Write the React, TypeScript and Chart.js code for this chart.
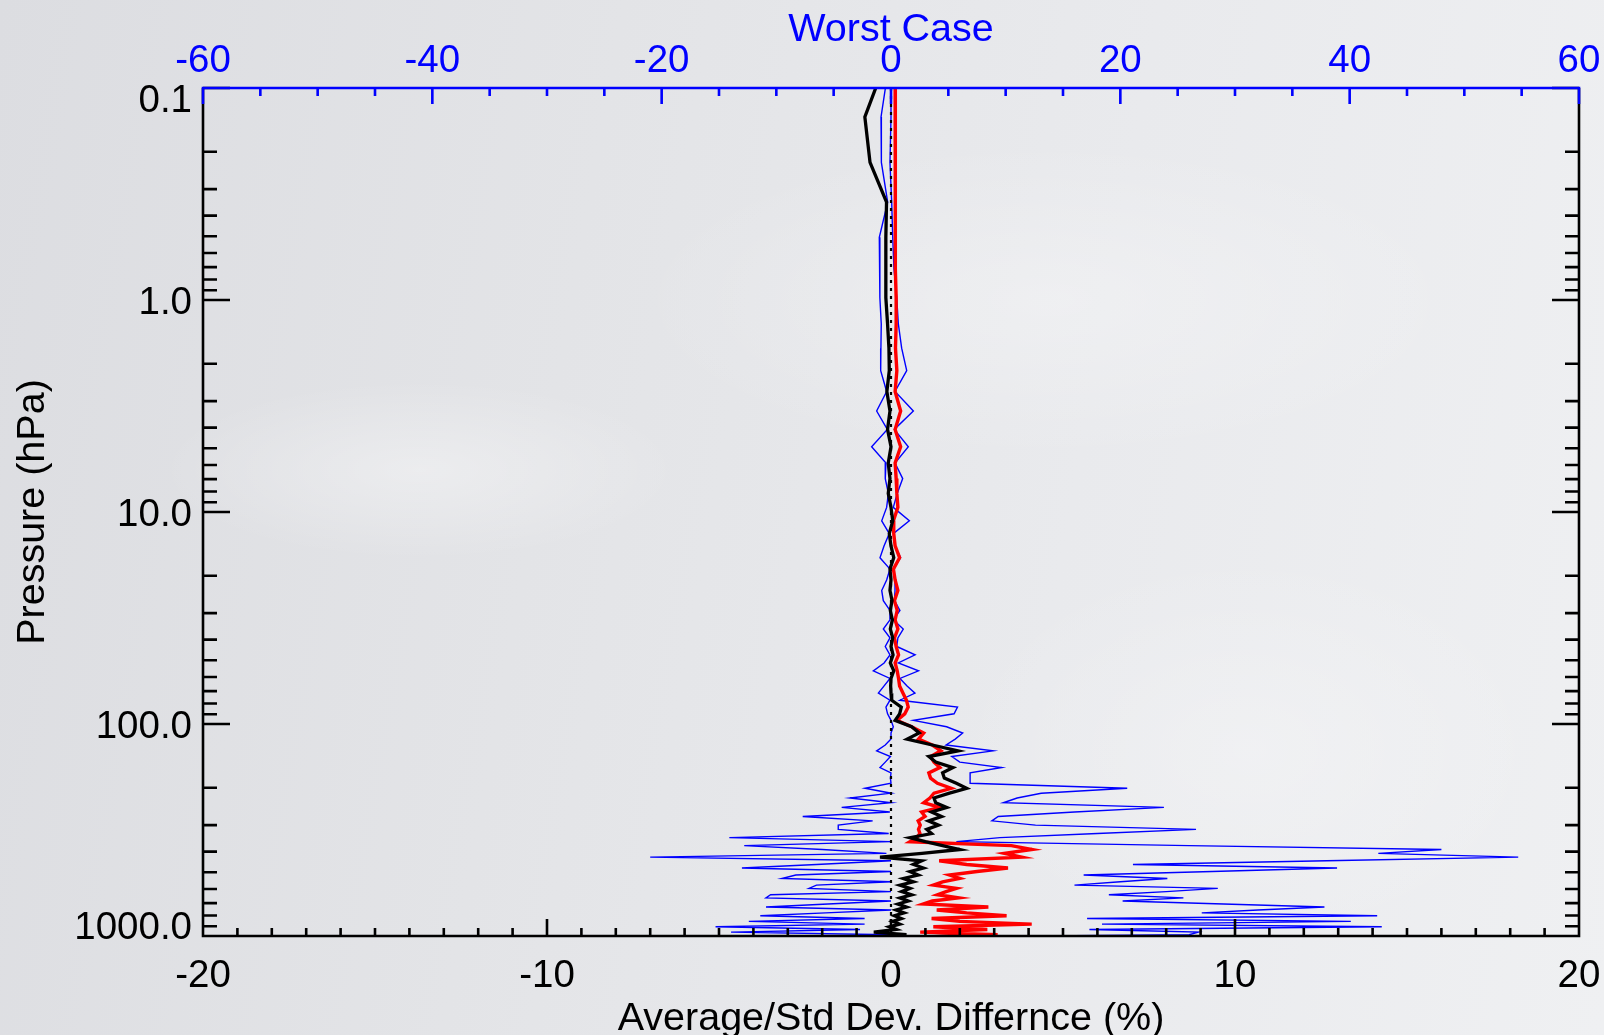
import { useEffect, useRef } from "react";
import { Chart, registerables } from "chart.js";

Chart.register(...registerables);

// Pressure levels (hPa) of the 101-level retrieval grid, 0.08 .. 1014 hPa
const pressureLevels = [
  0.0769, 0.137, 0.2244, 0.3454, 0.5064, 0.714, 0.9753, 1.2972, 1.6872, 2.1526,
  2.7009, 3.3398, 4.077, 4.9204, 5.8776, 6.9567, 8.1655, 9.5119, 11.0038, 12.6492,
  14.4559, 16.4318, 18.5847, 20.9224, 23.4526, 26.1829, 29.121, 32.2744, 35.6505, 39.2566,
  43.1001, 47.1882, 51.5278, 56.126, 60.9895, 66.1253, 71.5398, 77.2396, 83.231, 89.5204,
  96.1138, 103.0172, 110.2366, 117.7775, 125.6456, 133.8462, 142.3848, 151.2664, 160.4959, 170.0784,
  180.0183, 190.3203, 200.9887, 212.0277, 223.4415, 235.2338, 247.4085, 259.9691, 272.9191, 286.2617,
  300.0, 314.1369, 328.6753, 343.6176, 358.9665, 374.7241, 390.8926, 407.4738, 424.4698, 441.8819,
  459.7118, 477.9607, 496.6298, 515.72, 535.2322, 555.1669, 575.5248, 596.3062, 617.5112, 639.1398,
  661.192, 683.6673, 706.5654, 729.8857, 753.6275, 777.7897, 802.3714, 827.3713, 852.788, 878.6201,
  904.8659, 931.5236, 958.5911, 986.0666, 1013.9476,
];

// Average difference (%), bottom axis
const avgDiff = [
  -0.18, -0.76, -0.61, -0.13, -0.15, -0.15, -0.15, -0.1, -0.06, -0.05,
  -0.12, -0.03, -0.1, 0.0, -0.08, -0.03, -0.08, 0.0, 0.05, -0.05,
  0.0, 0.08, -0.03, 0.0, -0.03, 0.03, -0.02, 0.04, -0.02, 0.05,
  0.0, 0.06, -0.02, 0.08, 0.0, -0.01, 0.0, 0.02, 0.3, 0.25,
  0.12, 0.6, 0.82, 0.47, 1.2, 1.95, 1.1, 1.3, 1.8, 1.5,
  1.55, 1.9, 2.2, 1.7, 1.25, 1.3, 1.62, 1.18, 1.47, 1.09,
  1.38, 1.04, 1.18, 0.55, 1.0, 1.5, 2.0, 0.9, -0.32, 0.89,
  0.65, 0.94, 0.55, 0.79, 0.36, 0.65, 0.26, 0.55, 0.31, 0.6,
  0.26, 0.5, 0.2, 0.45, 0.15, 0.38, 0.1, 0.3, 0.05, 0.25,
  -0.05, 0.15, -0.5, 0.45, -0.3,
];

// Standard deviation difference (%), bottom axis
const stdDiff = [
  0.12, 0.12, 0.12, 0.12, 0.13, 0.14, 0.15, 0.15, 0.13, 0.17,
  0.12, 0.28, 0.12, 0.28, 0.12, 0.15, 0.17, 0.2, 0.07, 0.08,
  0.12, 0.25, 0.07, 0.12, 0.2, 0.1, 0.18, 0.12, 0.2, 0.1,
  0.15, 0.22, 0.12, 0.18, 0.22, 0.25, 0.35, 0.45, 0.5, 0.4,
  0.17, 0.6, 0.95, 0.8, 1.2, 1.45, 1.15, 1.25, 1.42, 1.1,
  1.15, 1.35, 1.75, 1.25, 1.13, 0.95, 1.42, 0.89, 0.99, 0.79,
  0.85, 0.8, 0.84, 0.75, 0.55, 3.5, 4.1, 3.3, 3.8, 1.4,
  2.2, 3.4, 2.5, 1.7, 2.0, 1.5, 1.23, 1.9, 1.6, 1.35,
  1.96, 1.2, 0.94, 2.83, 1.33, 2.2, 3.36, 1.18, 2.0, 4.09,
  1.23, 2.8, 0.85, 3.1, 0.8,
];

// Worst case, largest positive difference (%), top axis
const worstCaseHigh = [
  0.0, 0.0, -0.09, 0.06, 0.15, 0.26, 0.5, 0.64, 0.93, 1.37,
  0.35, 1.95, 0.29, 1.51, 0.35, 1.02, 0.55, 0.2, 1.6, 0.2,
  0.35, 0.84, 0.2, 0.35, 0.35, 0.3, 0.78, 0.2, 1.07, 0.6,
  0.5, 2.1, 0.64, 2.4, 0.78, 1.4, 2.09, 0.78, 5.8, 5.5,
  1.95, 4.85, 6.25, 5.6, 4.8, 8.9, 5.3, 6.0, 9.65, 6.9,
  6.9, 6.9, 20.6, 13.1, 11.0, 9.8, 23.8, 16.0, 9.35, 8.8,
  12.6, 26.6, 18.0, 9.5, 5.7, 26.0, 48.0, 42.5, 54.7, 38.0,
  21.1, 38.9, 28.0, 16.8, 24.1, 20.0, 16.0, 28.5, 24.0, 19.0,
  25.5, 20.2, 29.0, 37.8, 32.0, 27.1, 42.4, 17.1, 40.1, 18.4,
  42.8, 17.3, 26.8, 26.0, 0.0,
];

// Worst case, largest negative difference (%), top axis
const worstCaseLow = [
  -0.17, -0.87, -0.84, -0.29, -1.02, -0.98, -0.96, -0.85, -0.88, -0.9,
  -0.38, -1.25, -0.32, -1.69, -0.44, -0.5, -0.23, -0.38, -0.81, -0.15,
  -0.61, -0.96, -0.09, -0.38, -0.81, -0.67, -0.09, -0.09, -0.67, -0.09,
  -0.5, -0.09, -0.6, -1.54, -0.09, -0.6, -1.1, -0.09, -0.44, -0.3,
  0.0, 0.2, 0.0, 0.0, -0.5, -1.25, -0.05, -0.5, -0.96, 0.0,
  -0.05, 0.0, -2.27, 0.0, -3.58, 0.0, -4.3, -0.1, -7.7, -1.6,
  -4.6, -4.6, -0.2, -14.1, 0.0, -12.8, -6.0, -0.4, -21.0, 0.0,
  -6.5, -13.0, 0.0, -8.3, -9.5, 0.0, -6.5, -7.15, 0.0, -10.5,
  -10.9, 0.0, -5.5, -10.9, 0.0, -5.7, -11.4, -2.3, -12.4, -2.3,
  -15.3, -2.7, -13.95, 0.0, 0.0,
];

const bottomTicks = [-20, -10, 0, 10, 20];
const topTicks = [-60, -40, -20, 0, 20, 40, 60];
const pressureTicks = [0.1, 1, 10, 100, 1000];
const zeroLinePressures = [0.1, 1000];

const FONT = "'Liberation Sans', Arial, Helvetica, sans-serif";
const BLUE = "#0000ff";

const toPoints = (xs: number[]) => xs.map((x, i) => ({ x, y: pressureLevels[i] }));

// Draws the box frame with inward-pointing ticks and the pressure labels
const frame = {
  id: "frame",
  afterDraw(chart: any) {
    const { ctx, chartArea: a, scales } = chart;
    const sx = scales.x;
    const sx2 = scales.x2;
    const sy = scales.y;
    const seg = (x1: number, y1: number, x2: number, y2: number) => {
      ctx.moveTo(x1, y1);
      ctx.lineTo(x2, y2);
    };
    ctx.save();
    ctx.lineCap = "butt";
    ctx.lineWidth = 2.6;

    ctx.strokeStyle = "#000";
    ctx.beginPath();
    seg(a.left, a.top, a.left, a.bottom);
    seg(a.left - 1.3, a.bottom, a.right + 1.3, a.bottom);
    seg(a.right, a.bottom, a.right, a.top);
    for (let v = -20; v <= 20; v++) {
      const px = sx.getPixelForValue(v);
      seg(px, a.bottom, px, a.bottom - (v % 10 === 0 ? 17 : 8));
    }
    for (let e = -1; e <= 3; e++) {
      for (let m = 1; m <= 9; m++) {
        const v = m * Math.pow(10, e);
        if (v > 1000.001) break;
        const py = sy.getPixelForValue(v);
        const len = m === 1 ? 27 : 14;
        seg(a.left, py, a.left + len, py);
        seg(a.right, py, a.right - len, py);
      }
    }
    ctx.stroke();

    ctx.strokeStyle = BLUE;
    ctx.beginPath();
    seg(a.left - 1.3, a.top, a.right + 1.3, a.top);
    for (let v = -60; v <= 60; v += 5) {
      const px = sx2.getPixelForValue(v);
      seg(px, a.top, px, a.top + (v % 20 === 0 ? 16 : 8));
    }
    ctx.stroke();

    ctx.fillStyle = "#000";
    ctx.font = `38.5px ${FONT}`;
    ctx.textAlign = "right";
    ctx.textBaseline = "middle";
    for (const v of pressureTicks) {
      const py = Math.min(Math.max(sy.getPixelForValue(v), a.top + 10), a.bottom - 11) + 3;
      ctx.fillText(v.toFixed(1), a.left - 11, py);
    }
    ctx.restore();
  },
};

export default function App() {
  const ref = useRef<HTMLCanvasElement | null>(null);

  useEffect(() => {
    if (!ref.current) return;
    const tickFont = { family: FONT, size: 38.5, lineHeight: 1.2 };
    const titleFont = { family: FONT, size: 39.5, lineHeight: 1 };
    const chart = new Chart(ref.current, {
      type: "scatter",
      data: {
        datasets: [
          {
            label: "Average",
            data: toPoints(avgDiff),
            xAxisID: "x",
            yAxisID: "y",
            showLine: true,
            borderColor: "#000000",
            borderWidth: 3.3,
            pointRadius: 0,
            tension: 0,
          },
          {
            label: "Std Dev.",
            data: toPoints(stdDiff),
            xAxisID: "x",
            yAxisID: "y",
            showLine: true,
            borderColor: "#ff0000",
            borderWidth: 3.4,
            pointRadius: 0,
            tension: 0,
          },
          {
            label: "Zero",
            data: zeroLinePressures.map((p) => ({ x: 0, y: p })),
            xAxisID: "x",
            yAxisID: "y",
            showLine: true,
            borderColor: "#000000",
            borderWidth: 2.2,
            borderDash: [3, 5],
            pointRadius: 0,
          },
          {
            label: "Worst Case +",
            data: toPoints(worstCaseHigh),
            xAxisID: "x2",
            yAxisID: "y",
            showLine: true,
            borderColor: BLUE,
            borderWidth: 1.4,
            pointRadius: 0,
            tension: 0,
          },
          {
            label: "Worst Case -",
            data: toPoints(worstCaseLow),
            xAxisID: "x2",
            yAxisID: "y",
            showLine: true,
            borderColor: BLUE,
            borderWidth: 1.4,
            pointRadius: 0,
            tension: 0,
          },
        ],
      },
      options: {
        responsive: false,
        maintainAspectRatio: false,
        animation: false,
        devicePixelRatio: 1,
        events: [],
        layout: { padding: { left: 0, top: 0, right: 25, bottom: 0 } },
        plugins: { legend: { display: false }, tooltip: { enabled: false } },
        scales: {
          x: {
            type: "linear",
            position: "bottom",
            min: -20,
            max: 20,
            afterBuildTicks: (s: any) => {
              s.ticks = bottomTicks.map((value) => ({ value }));
            },
            afterFit: (s: any) => {
              s.height = 99;
              s.paddingRight = 0;
              s.paddingLeft = 0;
            },
            grid: { display: false, drawTicks: false },
            border: { display: false },
            ticks: {
              color: "#000",
              font: tickFont,
              padding: 17,
              autoSkip: false,
              maxRotation: 0,
              callback: (v: any) => String(v),
            },
            title: {
              display: true,
              text: "Average/Std Dev. Differnce (%)",
              color: "#000",
              font: titleFont,
              padding: { top: 0, bottom: -4 },
            },
          },
          x2: {
            type: "linear",
            position: "top",
            min: -60,
            max: 60,
            afterBuildTicks: (s: any) => {
              s.ticks = topTicks.map((value) => ({ value }));
            },
            afterFit: (s: any) => {
              s.height = 88;
              s.paddingRight = 0;
              s.paddingLeft = 0;
            },
            grid: { display: false, drawTicks: false },
            border: { display: false },
            ticks: {
              color: BLUE,
              font: tickFont,
              padding: 4,
              autoSkip: false,
              maxRotation: 0,
              callback: (v: any) => String(v),
            },
            title: {
              display: true,
              text: "Worst Case",
              color: BLUE,
              font: titleFont,
              padding: { top: 10, bottom: 0 },
            },
          },
          y: {
            type: "logarithmic",
            position: "left",
            min: 0.1,
            max: 1000,
            reverse: true,
            afterBuildTicks: (s: any) => {
              s.ticks = pressureTicks.map((value) => ({ value }));
            },
            afterFit: (s: any) => {
              s.width = 203;
              s.paddingTop = 0;
              s.paddingBottom = 0;
            },
            grid: { display: false, drawTicks: false },
            border: { display: false },
            ticks: { display: false },
            title: {
              display: true,
              text: "Pressure (hPa)",
              color: "#000",
              font: titleFont,
              padding: { top: 13, bottom: 0 },
            },
          },
        },
      },
      plugins: [frame],
    } as any);
    return () => chart.destroy();
  }, []);

  return (
    <div
      style={{
        position: "absolute",
        left: 0,
        top: 0,
        width: 1604,
        height: 1035,
        overflow: "hidden",
        background:
          "radial-gradient(ellipse 260px 90px at 420px 470px, rgba(255,255,255,0.35), rgba(255,255,255,0) 100%)," +
          "radial-gradient(ellipse 420px 160px at 1050px 300px, rgba(255,255,255,0.28), rgba(255,255,255,0) 100%)," +
          "radial-gradient(ellipse 300px 200px at 1250px 750px, rgba(255,255,255,0.25), rgba(255,255,255,0) 100%)," +
          "linear-gradient(100deg, #dcdde1 0%, #e3e4e7 35%, #e9eaed 65%, #eff0f2 100%)",
      }}
    >
      <canvas ref={ref} width={1604} height={1035} style={{ display: "block" }} />
    </div>
  );
}
